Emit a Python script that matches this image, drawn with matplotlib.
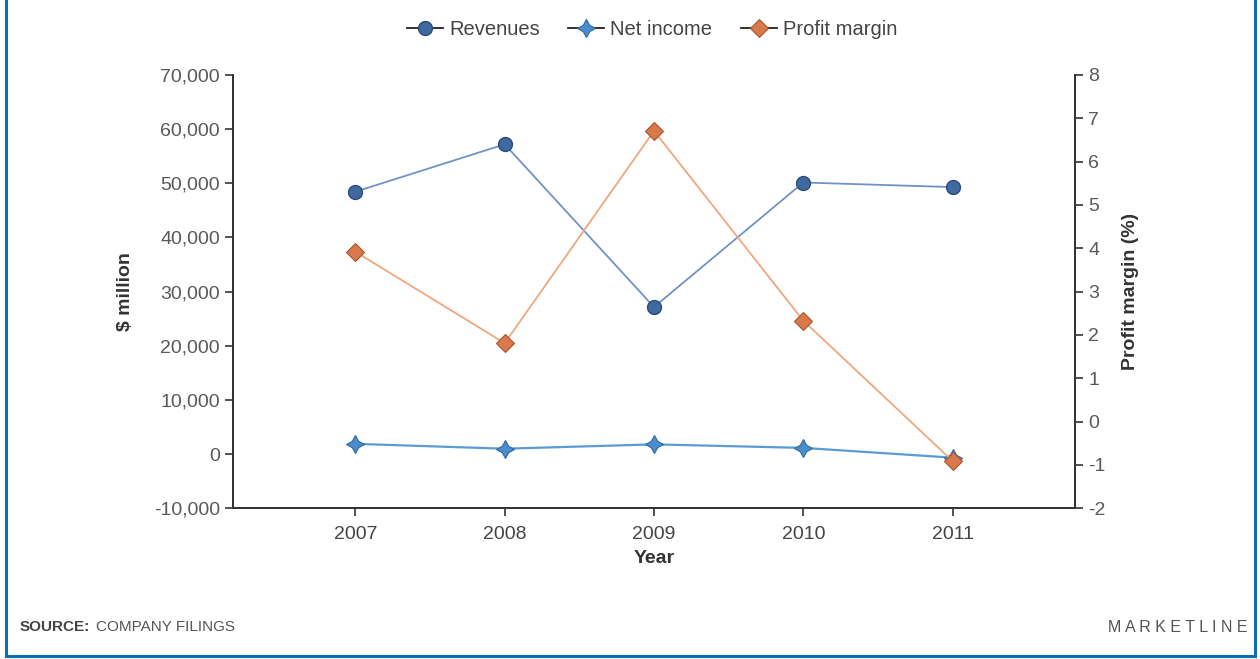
import matplotlib.pyplot as plt
from matplotlib.lines import Line2D
from matplotlib.ticker import FuncFormatter

plt.rcParams['font.family'] = ['Liberation Sans', 'DejaVu Sans']
plt.rcParams['axes.unicode_minus'] = False

years = [2007, 2008, 2009, 2010, 2011]
revenues = [48450, 57200, 27150, 50150, 49300]      # $ million
net_income = [1900, 1000, 1800, 1150, -650]        # $ million
profit_margin = [3.92, 1.81, 6.71, 2.33, -0.91]    # %

rev_line = '#6f93c4'
rev_face = '#3f6aa0'
ni_line = '#5b9bd5'
ni_face = '#4a8ccc'
pm_line = '#f0a77f'
pm_face = '#d9784a'
axis_col = '#333333'
tick_col = '#595959'


def main():
    fig = plt.figure(figsize=(12.6, 6.59), dpi=100)
    ax = fig.add_axes([0.1849, 0.2287, 0.8532 - 0.1849, 0.8862 - 0.2287])
    ax2 = ax.twinx()

    rev_style = dict(marker='o', ms=10, mfc=rev_face, mec='#2c4d78', mew=1.0)
    ni_style = dict(marker=(4, 1, 0), ms=13, mfc=ni_face, mec='#2f6aa3', mew=0.8)
    pm_style = dict(marker='D', ms=9, mfc=pm_face, mec='#a8562e', mew=0.8)

    ax.plot(years, revenues, color=rev_line, lw=1.3, zorder=3, **rev_style)
    ax.plot(years, net_income, color=ni_line, lw=1.6, zorder=3, **ni_style)
    ax2.plot(years, profit_margin, color=pm_line, lw=1.3, zorder=3, **pm_style)

    ax.set_xlim(2006.18, 2011.82)
    ax.set_ylim(-10000, 70000)
    ax.set_yticks(range(-10000, 70001, 10000))
    ax.yaxis.set_major_formatter(FuncFormatter(lambda v, p: f'{int(v):,}'))
    ax.set_xticks(years)
    ax2.set_ylim(-2, 8)
    ax2.set_yticks(range(-2, 9))

    for a in (ax, ax2):
        a.spines['top'].set_visible(False)
        for s in ('left', 'right', 'bottom'):
            a.spines[s].set_color(axis_col)
            a.spines[s].set_linewidth(1.3)
        a.tick_params(colors=axis_col, labelcolor=tick_col, labelsize=14,
                      length=6, width=1.2, direction='out')
    ax.tick_params(axis='x', labelcolor='#444444', pad=7)

    ax.set_xlabel('Year', fontsize=14, fontweight='bold', color='#333333', labelpad=5)
    ax.set_ylabel('$ million', fontsize=14, fontweight='bold', color='#333333', labelpad=14)
    ax2.set_ylabel('Profit margin (%)', fontsize=14, fontweight='bold', color='#333333',
                   labelpad=12)

    # legend keys: dark short line through the marker
    handles = [Line2D([], [], color='#222222', lw=1.3, **rev_style),
               Line2D([], [], color='#222222', lw=1.3, **ni_style),
               Line2D([], [], color='#222222', lw=1.3, **pm_style)]
    fig.legend(handles, ['Revenues', 'Net income', 'Profit margin'], loc='center',
               bbox_to_anchor=(0.5175, 0.955), ncol=3, frameon=False, fontsize=14.5,
               handlelength=1.8, handletextpad=0.3, columnspacing=1.4,
               labelcolor='#444444')

    # footer
    fy = 1 - 627 / 659
    fig.text(20 / 1260, fy, 'SOURCE:', fontsize=11, fontweight='bold',
             color='#444444', va='center')
    fig.text(96 / 1260, fy, 'COMPANY FILINGS', fontsize=11,
             color='#555555', va='center')
    fig.text(1248 / 1260, fy, 'M A R K E T L I N E', fontsize=11.5,
             color='#555555', va='center', ha='right')

    # blue frame on left, right and bottom
    border = '#0b6fb8'
    lw = 2.2
    fig.add_artist(Line2D([6 / 1260, 6 / 1260], [1, 3 / 659], color=border, lw=lw))
    fig.add_artist(Line2D([1255 / 1260, 1255 / 1260], [1, 3 / 659], color=border, lw=lw))
    fig.add_artist(Line2D([6 / 1260, 1255 / 1260], [3 / 659, 3 / 659], color=border, lw=lw))

    fig.savefig('out.png', dpi=100, facecolor='white')


if __name__ == '__main__':
    main()
